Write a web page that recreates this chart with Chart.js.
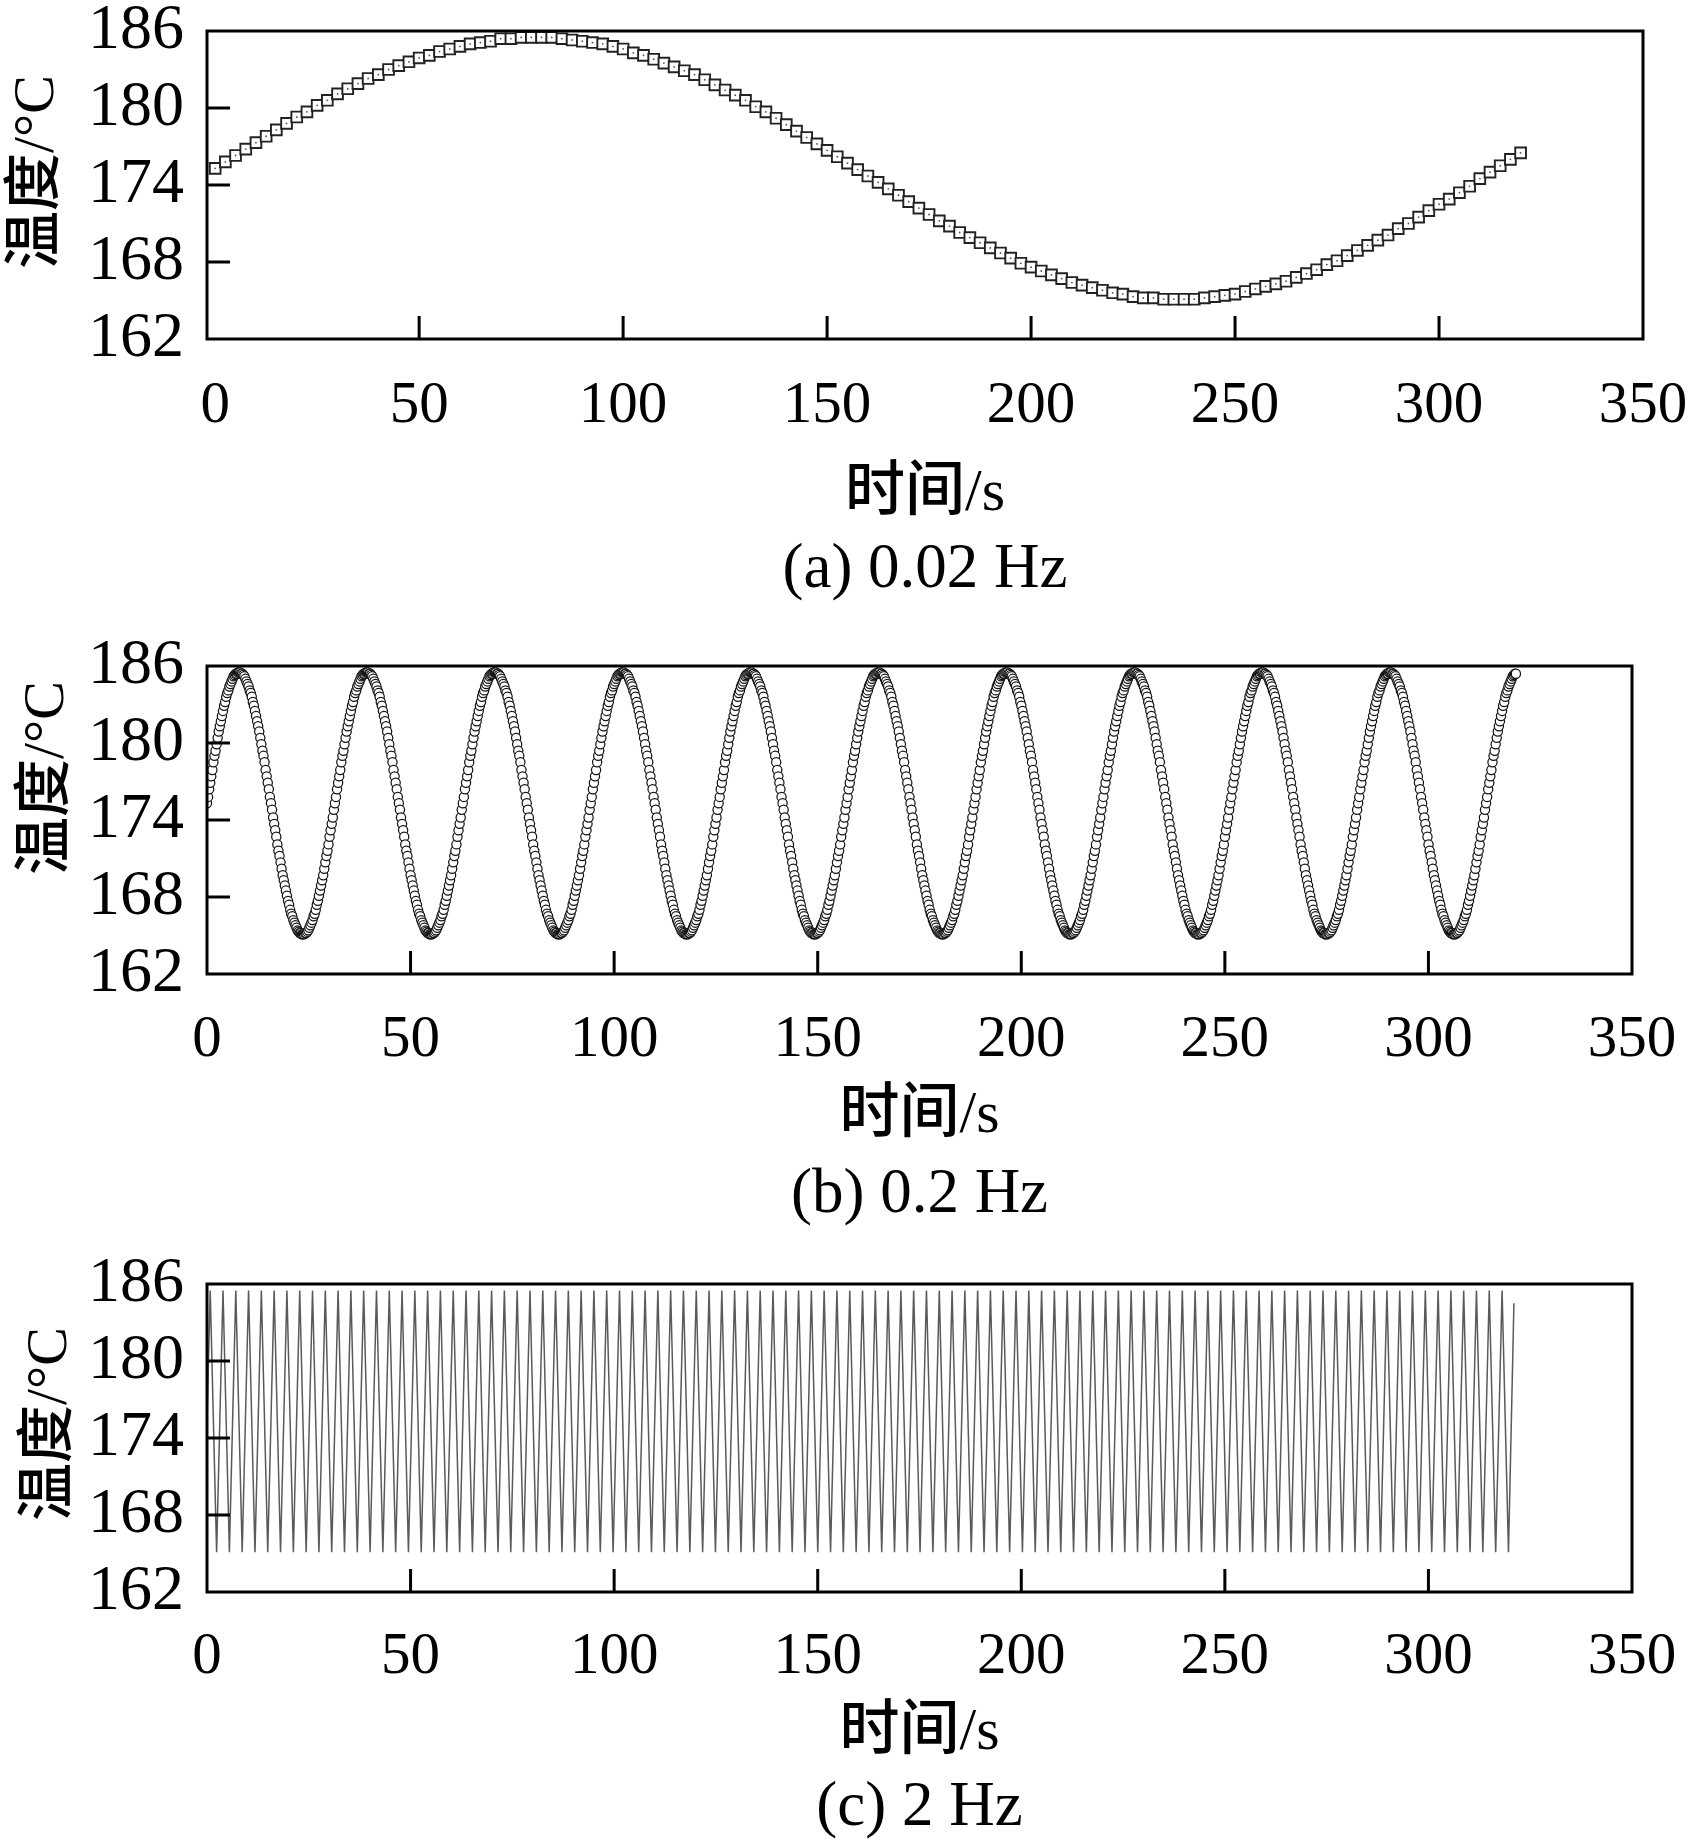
<!DOCTYPE html>
<html><head><meta charset="utf-8">
<script src="https://cdn.jsdelivr.net/npm/chart.js@4.4.0/dist/chart.umd.min.js"></script>
<style>
html,body{margin:0;padding:0;background:#fff;}
body{width:1697px;height:1843px;position:relative;overflow:hidden;}
.panel{position:absolute;left:0;width:1697px;}
canvas{display:block;}
</style></head><body>
<div class="panel" style="top:0;height:620px"><canvas id="ca" width="1697" height="620"></canvas></div>
<div class="panel" style="top:620px;height:620px"><canvas id="cb" width="1697" height="620"></canvas></div>
<div class="panel" style="top:1240px;height:603px"><canvas id="cc" width="1697" height="603"></canvas></div>
<script>
// ---------- tick labels ----------
const xTickValues = [0, 50, 100, 150, 200, 250, 300, 350];
const yTickValues = [162, 168, 174, 180, 186];

// ---------- labels ----------
const yAxisTitle = '温度/°C';
const xAxisTitle = '时间/s';
const captions = ['(a) 0.02 Hz', '(b) 0.2 Hz', '(c) 2 Hz'];

// ---------- (a) 0.02 Hz : time (s) and temperature (°C) ----------
const timeA = [0,2.5,5,7.5,10,12.5,15,17.5,20,22.5,25,27.5,30,32.5,35,37.5,40,42.5,45,47.5,50,52.5,55,57.5,60,62.5,65,67.5,70,72.5,75,77.5,80,82.5,85,87.5,90,92.5,95,97.5,100,102.5,105,107.5,110,112.5,115,117.5,120,122.5,125,127.5,130,132.5,135,137.5,140,142.5,145,147.5,150,152.5,155,157.5,160,162.5,165,167.5,170,172.5,175,177.5,180,182.5,185,187.5,190,192.5,195,197.5,200,202.5,205,207.5,210,212.5,215,217.5,220,222.5,225,227.5,230,232.5,235,237.5,240,242.5,245,247.5,250,252.5,255,257.5,260,262.5,265,267.5,270,272.5,275,277.5,280,282.5,285,287.5,290,292.5,295,297.5,300,302.5,305,307.5,310,312.5,315,317.5,320];
const tempA = [
175.3,175.8,176.3,176.8,177.3,177.8,178.3,178.8,179.3,179.7,
180.2,180.6,181.1,181.5,181.9,182.3,182.6,183.0,183.3,183.6,
183.9,184.1,184.4,184.6,184.8,185.0,185.1,185.2,185.4,185.4,
185.5,185.5,185.5,185.5,185.4,185.3,185.2,185.1,185.0,184.8,
184.6,184.3,184.1,183.8,183.5,183.2,182.9,182.6,182.2,181.8,
181.4,181.0,180.6,180.1,179.7,179.2,178.7,178.2,177.7,177.2,
176.7,176.2,175.7,175.2,174.7,174.2,173.7,173.2,172.7,172.2,
171.7,171.2,170.8,170.3,169.9,169.5,169.1,168.7,168.3,167.9,
167.6,167.3,167.0,166.7,166.4,166.2,166.0,165.8,165.6,165.5,
165.3,165.2,165.2,165.1,165.1,165.1,165.1,165.2,165.3,165.4,
165.5,165.7,165.9,166.1,166.3,166.5,166.8,167.1,167.4,167.8,
168.1,168.5,168.9,169.3,169.7,170.1,170.6,171.0,171.5,172.0,
172.5,172.9,173.4,173.9,174.5,175.0,175.5,176.0,176.5];

// ---------- (b) 0.2 Hz : sampled every timeStepB seconds ----------
const timeStepB = 0.2618;
const tempB = [
175.3,175.8,176.4,176.9,177.4,177.9,178.5,179.0,179.4,179.9,180.4,180.9,181.3,181.7,182.1,182.5,182.9,183.2,183.6,183.9,184.1,184.4,184.6,184.8,185.0,185.2,185.3,185.4,185.4,185.5,185.5,185.5,185.4,185.4,185.3,185.2,185.0,184.8,184.6,184.4,184.1,183.9,183.6,183.2,182.9,182.5,182.1,181.7,181.3,180.9,180.4,179.9,179.4,179.0,178.5,177.9,177.4,176.9,176.4,175.8,175.3,174.8,174.2,173.7,173.2,172.7,172.1,171.6,171.2,170.7,170.2,169.7,169.3,168.9,168.5,168.1,167.7,167.4,167.0,166.7,166.5,166.2,166.0,165.8,165.6,165.4,165.3,165.2,165.2,165.1,165.1,165.1,165.2,165.2,165.3,165.4,165.6,165.8,166.0,166.2,166.5,166.7,167.0,167.4,167.7,168.1,168.5,168.9,169.3,169.7,170.2,170.7,171.2,171.6,172.1,172.7,173.2,173.7,174.2,174.8,
175.3,175.8,176.4,176.9,177.4,177.9,178.5,179.0,179.4,179.9,180.4,180.9,181.3,181.7,182.1,182.5,182.9,183.2,183.6,183.9,184.1,184.4,184.6,184.8,185.0,185.2,185.3,185.4,185.4,185.5,185.5,185.5,185.4,185.4,185.3,185.2,185.0,184.8,184.6,184.4,184.1,183.9,183.6,183.2,182.9,182.5,182.1,181.7,181.3,180.9,180.4,179.9,179.4,179.0,178.5,177.9,177.4,176.9,176.4,175.8,175.3,174.8,174.2,173.7,173.2,172.7,172.1,171.6,171.2,170.7,170.2,169.7,169.3,168.9,168.5,168.1,167.7,167.4,167.0,166.7,166.5,166.2,166.0,165.8,165.6,165.4,165.3,165.2,165.2,165.1,165.1,165.1,165.2,165.2,165.3,165.4,165.6,165.8,166.0,166.2,166.5,166.7,167.0,167.4,167.7,168.1,168.5,168.9,169.3,169.7,170.2,170.7,171.2,171.6,172.1,172.7,173.2,173.7,174.2,174.8,
175.3,175.8,176.4,176.9,177.4,177.9,178.5,179.0,179.4,179.9,180.4,180.9,181.3,181.7,182.1,182.5,182.9,183.2,183.6,183.9,184.1,184.4,184.6,184.8,185.0,185.2,185.3,185.4,185.4,185.5,185.5,185.5,185.4,185.4,185.3,185.2,185.0,184.8,184.6,184.4,184.1,183.9,183.6,183.2,182.9,182.5,182.1,181.7,181.3,180.9,180.4,179.9,179.4,179.0,178.5,177.9,177.4,176.9,176.4,175.8,175.3,174.8,174.2,173.7,173.2,172.7,172.1,171.6,171.2,170.7,170.2,169.7,169.3,168.9,168.5,168.1,167.7,167.4,167.0,166.7,166.5,166.2,166.0,165.8,165.6,165.4,165.3,165.2,165.2,165.1,165.1,165.1,165.2,165.2,165.3,165.4,165.6,165.8,166.0,166.2,166.5,166.7,167.0,167.4,167.7,168.1,168.5,168.9,169.3,169.7,170.2,170.7,171.2,171.6,172.1,172.7,173.2,173.7,174.2,174.8,
175.3,175.8,176.4,176.9,177.4,177.9,178.5,179.0,179.4,179.9,180.4,180.9,181.3,181.7,182.1,182.5,182.9,183.2,183.6,183.9,184.1,184.4,184.6,184.8,185.0,185.2,185.3,185.4,185.4,185.5,185.5,185.5,185.4,185.4,185.3,185.2,185.0,184.8,184.6,184.4,184.1,183.9,183.6,183.2,182.9,182.5,182.1,181.7,181.3,180.9,180.4,179.9,179.4,179.0,178.5,177.9,177.4,176.9,176.4,175.8,175.3,174.8,174.2,173.7,173.2,172.7,172.1,171.6,171.2,170.7,170.2,169.7,169.3,168.9,168.5,168.1,167.7,167.4,167.0,166.7,166.5,166.2,166.0,165.8,165.6,165.4,165.3,165.2,165.2,165.1,165.1,165.1,165.2,165.2,165.3,165.4,165.6,165.8,166.0,166.2,166.5,166.7,167.0,167.4,167.7,168.1,168.5,168.9,169.3,169.7,170.2,170.7,171.2,171.6,172.1,172.7,173.2,173.7,174.2,174.8,
175.3,175.8,176.4,176.9,177.4,177.9,178.5,179.0,179.4,179.9,180.4,180.9,181.3,181.7,182.1,182.5,182.9,183.2,183.6,183.9,184.1,184.4,184.6,184.8,185.0,185.2,185.3,185.4,185.4,185.5,185.5,185.5,185.4,185.4,185.3,185.2,185.0,184.8,184.6,184.4,184.1,183.9,183.6,183.2,182.9,182.5,182.1,181.7,181.3,180.9,180.4,179.9,179.4,179.0,178.5,177.9,177.4,176.9,176.4,175.8,175.3,174.8,174.2,173.7,173.2,172.7,172.1,171.6,171.2,170.7,170.2,169.7,169.3,168.9,168.5,168.1,167.7,167.4,167.0,166.7,166.5,166.2,166.0,165.8,165.6,165.4,165.3,165.2,165.2,165.1,165.1,165.1,165.2,165.2,165.3,165.4,165.6,165.8,166.0,166.2,166.5,166.7,167.0,167.4,167.7,168.1,168.5,168.9,169.3,169.7,170.2,170.7,171.2,171.6,172.1,172.7,173.2,173.7,174.2,174.8,
175.3,175.8,176.4,176.9,177.4,177.9,178.5,179.0,179.4,179.9,180.4,180.9,181.3,181.7,182.1,182.5,182.9,183.2,183.6,183.9,184.1,184.4,184.6,184.8,185.0,185.2,185.3,185.4,185.4,185.5,185.5,185.5,185.4,185.4,185.3,185.2,185.0,184.8,184.6,184.4,184.1,183.9,183.6,183.2,182.9,182.5,182.1,181.7,181.3,180.9,180.4,179.9,179.4,179.0,178.5,177.9,177.4,176.9,176.4,175.8,175.3,174.8,174.2,173.7,173.2,172.7,172.1,171.6,171.2,170.7,170.2,169.7,169.3,168.9,168.5,168.1,167.7,167.4,167.0,166.7,166.5,166.2,166.0,165.8,165.6,165.4,165.3,165.2,165.2,165.1,165.1,165.1,165.2,165.2,165.3,165.4,165.6,165.8,166.0,166.2,166.5,166.7,167.0,167.4,167.7,168.1,168.5,168.9,169.3,169.7,170.2,170.7,171.2,171.6,172.1,172.7,173.2,173.7,174.2,174.8,
175.3,175.8,176.4,176.9,177.4,177.9,178.5,179.0,179.4,179.9,180.4,180.9,181.3,181.7,182.1,182.5,182.9,183.2,183.6,183.9,184.1,184.4,184.6,184.8,185.0,185.2,185.3,185.4,185.4,185.5,185.5,185.5,185.4,185.4,185.3,185.2,185.0,184.8,184.6,184.4,184.1,183.9,183.6,183.2,182.9,182.5,182.1,181.7,181.3,180.9,180.4,179.9,179.4,179.0,178.5,177.9,177.4,176.9,176.4,175.8,175.3,174.8,174.2,173.7,173.2,172.7,172.1,171.6,171.2,170.7,170.2,169.7,169.3,168.9,168.5,168.1,167.7,167.4,167.0,166.7,166.5,166.2,166.0,165.8,165.6,165.4,165.3,165.2,165.2,165.1,165.1,165.1,165.2,165.2,165.3,165.4,165.6,165.8,166.0,166.2,166.5,166.7,167.0,167.4,167.7,168.1,168.5,168.9,169.3,169.7,170.2,170.7,171.2,171.6,172.1,172.7,173.2,173.7,174.2,174.8,
175.3,175.8,176.4,176.9,177.4,177.9,178.5,179.0,179.4,179.9,180.4,180.9,181.3,181.7,182.1,182.5,182.9,183.2,183.6,183.9,184.1,184.4,184.6,184.8,185.0,185.2,185.3,185.4,185.4,185.5,185.5,185.5,185.4,185.4,185.3,185.2,185.0,184.8,184.6,184.4,184.1,183.9,183.6,183.2,182.9,182.5,182.1,181.7,181.3,180.9,180.4,179.9,179.4,179.0,178.5,177.9,177.4,176.9,176.4,175.8,175.3,174.8,174.2,173.7,173.2,172.7,172.1,171.6,171.2,170.7,170.2,169.7,169.3,168.9,168.5,168.1,167.7,167.4,167.0,166.7,166.5,166.2,166.0,165.8,165.6,165.4,165.3,165.2,165.2,165.1,165.1,165.1,165.2,165.2,165.3,165.4,165.6,165.8,166.0,166.2,166.5,166.7,167.0,167.4,167.7,168.1,168.5,168.9,169.3,169.7,170.2,170.7,171.2,171.6,172.1,172.7,173.2,173.7,174.2,174.8,
175.3,175.8,176.4,176.9,177.4,177.9,178.5,179.0,179.4,179.9,180.4,180.9,181.3,181.7,182.1,182.5,182.9,183.2,183.6,183.9,184.1,184.4,184.6,184.8,185.0,185.2,185.3,185.4,185.4,185.5,185.5,185.5,185.4,185.4,185.3,185.2,185.0,184.8,184.6,184.4,184.1,183.9,183.6,183.2,182.9,182.5,182.1,181.7,181.3,180.9,180.4,179.9,179.4,179.0,178.5,177.9,177.4,176.9,176.4,175.8,175.3,174.8,174.2,173.7,173.2,172.7,172.1,171.6,171.2,170.7,170.2,169.7,169.3,168.9,168.5,168.1,167.7,167.4,167.0,166.7,166.5,166.2,166.0,165.8,165.6,165.4,165.3,165.2,165.2,165.1,165.1,165.1,165.2,165.2,165.3,165.4,165.6,165.8,166.0,166.2,166.5,166.7,167.0,167.4,167.7,168.1,168.5,168.9,169.3,169.7,170.2,170.7,171.2,171.6,172.1,172.7,173.2,173.7,174.2,174.8,
175.3,175.8,176.4,176.9,177.4,177.9,178.5,179.0,179.4,179.9,180.4,180.9,181.3,181.7,182.1,182.5,182.9,183.2,183.6,183.9,184.1,184.4,184.6,184.8,185.0,185.2,185.3,185.4,185.4,185.5,185.5,185.5,185.4,185.4,185.3,185.2,185.0,184.8,184.6,184.4,184.1,183.9,183.6,183.2,182.9,182.5,182.1,181.7,181.3,180.9,180.4,179.9,179.4,179.0,178.5,177.9,177.4,176.9,176.4,175.8,175.3,174.8,174.2,173.7,173.2,172.7,172.1,171.6,171.2,170.7,170.2,169.7,169.3,168.9,168.5,168.1,167.7,167.4,167.0,166.7,166.5,166.2,166.0,165.8,165.6,165.4,165.3,165.2,165.2,165.1,165.1,165.1,165.2,165.2,165.3,165.4,165.6,165.8,166.0,166.2,166.5,166.7,167.0,167.4,167.7,168.1,168.5,168.9,169.3,169.7,170.2,170.7,171.2,171.6,172.1,172.7,173.2,173.7,174.2,174.8,
175.3,175.8,176.4,176.9,177.4,177.9,178.5,179.0,179.4,179.9,180.4,180.9,181.3,181.7,182.1,182.5,182.9,183.2,183.6,183.9,184.1,184.4,184.6,184.8,185.0,185.2,185.3,185.4,185.4];

// ---------- (c) 2 Hz : turning points of the trace ----------
const timeC = [0,
0.79,2.36,3.93,5.50,7.07,8.64,10.21,11.78,13.35,14.92,16.49,18.06,19.63,21.21,22.78,24.35,25.92,27.49,29.06,30.63,
32.20,33.77,35.34,36.91,38.48,40.06,41.63,43.20,44.77,46.34,47.91,49.48,51.05,52.62,54.19,55.76,57.33,58.90,60.48,62.05,
63.62,65.19,66.76,68.33,69.90,71.47,73.04,74.61,76.18,77.75,79.33,80.90,82.47,84.04,85.61,87.18,88.75,90.32,91.89,93.46,
95.03,96.60,98.17,99.75,101.32,102.89,104.46,106.03,107.60,109.17,110.74,112.31,113.88,115.45,117.02,118.60,120.17,121.74,123.31,124.88,
126.45,128.02,129.59,131.16,132.73,134.30,135.87,137.44,139.02,140.59,142.16,143.73,145.30,146.87,148.44,150.01,151.58,153.15,154.72,156.29,
157.87,159.44,161.01,162.58,164.15,165.72,167.29,168.86,170.43,172.00,173.57,175.14,176.71,178.29,179.86,181.43,183.00,184.57,186.14,187.71,
189.28,190.85,192.42,193.99,195.56,197.14,198.71,200.28,201.85,203.42,204.99,206.56,208.13,209.70,211.27,212.84,214.41,215.98,217.56,219.13,
220.70,222.27,223.84,225.41,226.98,228.55,230.12,231.69,233.26,234.83,236.40,237.98,239.55,241.12,242.69,244.26,245.83,247.40,248.97,250.54,
252.11,253.68,255.25,256.82,258.40,259.97,261.54,263.11,264.68,266.25,267.82,269.39,270.96,272.53,274.10,275.67,277.25,278.82,280.39,281.96,
283.53,285.10,286.67,288.24,289.81,291.38,292.95,294.52,296.09,297.67,299.24,300.81,302.38,303.95,305.52,307.09,308.66,310.23,311.80,313.37,
314.94,316.52,318.09,319.66,
321.0];
const tempC = [175.3,
185.5,165.1,185.5,165.1,185.5,165.1,185.5,165.1,185.5,165.1,185.5,165.1,185.5,165.1,185.5,165.1,185.5,165.1,185.5,165.1,
185.5,165.1,185.5,165.1,185.5,165.1,185.5,165.1,185.5,165.1,185.5,165.1,185.5,165.1,185.5,165.1,185.5,165.1,185.5,165.1,
185.5,165.1,185.5,165.1,185.5,165.1,185.5,165.1,185.5,165.1,185.5,165.1,185.5,165.1,185.5,165.1,185.5,165.1,185.5,165.1,
185.5,165.1,185.5,165.1,185.5,165.1,185.5,165.1,185.5,165.1,185.5,165.1,185.5,165.1,185.5,165.1,185.5,165.1,185.5,165.1,
185.5,165.1,185.5,165.1,185.5,165.1,185.5,165.1,185.5,165.1,185.5,165.1,185.5,165.1,185.5,165.1,185.5,165.1,185.5,165.1,
185.5,165.1,185.5,165.1,185.5,165.1,185.5,165.1,185.5,165.1,185.5,165.1,185.5,165.1,185.5,165.1,185.5,165.1,185.5,165.1,
185.5,165.1,185.5,165.1,185.5,165.1,185.5,165.1,185.5,165.1,185.5,165.1,185.5,165.1,185.5,165.1,185.5,165.1,185.5,165.1,
185.5,165.1,185.5,165.1,185.5,165.1,185.5,165.1,185.5,165.1,185.5,165.1,185.5,165.1,185.5,165.1,185.5,165.1,185.5,165.1,
185.5,165.1,185.5,165.1,185.5,165.1,185.5,165.1,185.5,165.1,185.5,165.1,185.5,165.1,185.5,165.1,185.5,165.1,185.5,165.1,
185.5,165.1,185.5,165.1,185.5,165.1,185.5,165.1,185.5,165.1,185.5,165.1,185.5,165.1,185.5,165.1,185.5,165.1,185.5,165.1,
185.5,165.1,185.5,165.1,
184.5];

// ---------- build library data ----------
const dataA = timeA.map((t, i) => ({x: t, y: tempA[i]}));
const dataB = tempB.map((v, i) => ({x: i * timeStepB, y: v}));
const dataC = timeC.map((t, i) => ({x: t, y: tempC[i]}));

const FONT = "'Liberation Serif','Noto Sans CJK SC',serif";
Chart.defaults.font.family = FONT;
Chart.defaults.color = '#000';

function framePlugin(g) {
  return {
    id: 'frameTicks',
    afterDatasetsDraw(chart) {
      const {ctx, chartArea: a, scales: {x, y}} = chart;
      ctx.save();
      ctx.strokeStyle = '#000';
      ctx.lineWidth = 3;
      ctx.lineCap = 'butt';
      ctx.beginPath();
      xTickValues.slice(1, -1).forEach(v => { const px = x.getPixelForValue(v); ctx.moveTo(px, a.bottom); ctx.lineTo(px, a.bottom - 23); });
      yTickValues.slice(1, -1).forEach(v => { const py = y.getPixelForValue(v); ctx.moveTo(a.left, py); ctx.lineTo(a.left + 23, py); });
      ctx.stroke();
      ctx.strokeRect(a.left, a.top, a.right - a.left, a.bottom - a.top);
      ctx.fillStyle = '#000';
      ctx.textAlign = 'center';
      ctx.textBaseline = 'middle';
      // caption under the panel
      ctx.font = '63px ' + FONT;
      ctx.fillText(g.caption, (a.left + a.right) / 2, g.capY);
      // rotated y-axis title
      ctx.translate(g.ytX, g.ytY);
      ctx.rotate(-Math.PI / 2);
      ctx.font = '500 58px ' + FONT;
      ctx.fillText(yAxisTitle, 0, 0);
      ctx.restore();
    }
  };
}

function makeOptions(g) {
  return {
    responsive: false,
    animation: false,
    events: [],
    layout: {autoPadding: false, padding: {left: 0, top: g.top, right: g.right, bottom: g.bottom}},
    plugins: {legend: {display: false}, tooltip: {enabled: false}, title: {display: false}},
    scales: {
      x: {
        type: 'linear', min: g.xmin, max: 350,
        grid: {display: false, drawTicks: false}, border: {display: false},
        afterBuildTicks: s => { s.ticks = xTickValues.map(v => ({value: v})); },
        afterFit: s => { s.height = g.xh; s.paddingLeft = 0; s.paddingRight = 0; },
        ticks: {autoSkip: false, maxRotation: 0, padding: g.xtick, color: '#000',
                font: {family: FONT, size: 59, lineHeight: 1.2}},
        title: {display: true, text: xAxisTitle, color: '#000',
                font: {family: FONT, size: 60, weight: 500, lineHeight: 1.2},
                padding: {top: 0, bottom: g.xtPad}}
      },
      y: {
        type: 'linear', min: 162, max: 186,
        grid: {display: false, drawTicks: false}, border: {display: false},
        afterBuildTicks: s => { s.ticks = yTickValues.map(v => ({value: v})); },
        afterFit: s => { s.width = 207; s.paddingTop = 0; s.paddingBottom = 0; },
        ticks: {autoSkip: false, padding: 23, color: '#000', font: {family: FONT, size: 64, lineHeight: 1.0}}
      }
    }
  };
}

new Chart(document.getElementById('ca'), {
  type: 'scatter',
  data: {datasets: [
    {data: dataA, order: 0, pointStyle: 'circle', pointRadius: 0.9, pointBackgroundColor: '#555', pointBorderWidth: 0, showLine: false},
    {data: dataA, order: 1, pointStyle: 'rect', pointRadius: 7.6, pointBackgroundColor: '#fff', pointBorderColor: '#222', pointBorderWidth: 1.9, showLine: false}
  ]},
  options: makeOptions({top: 31, right: 54, bottom: 81, xh: 200, xtPad: 9, xtick: 32, xmin: -2}),
  plugins: [framePlugin({ytX: 38, ytY: 172, caption: captions[0], capY: 570})]
});

new Chart(document.getElementById('cb'), {
  type: 'scatter',
  data: {datasets: [
    {data: dataB, pointStyle: 'circle', pointRadius: 4.6, pointBackgroundColor: '#fff', pointBorderColor: '#151515', pointBorderWidth: 1.25, showLine: false}
  ]},
  options: makeOptions({top: 46, right: 65, bottom: 86, xh: 180, xtPad: 2, xtick: 31, xmin: 0}),
  plugins: [framePlugin({ytX: 48, ytY: 158, caption: captions[1], capY: 575})]
});

new Chart(document.getElementById('cc'), {
  type: 'scatter',
  data: {datasets: [
    {data: dataC, showLine: true, tension: 0, borderColor: '#5a5a5a', borderWidth: 1.5, pointRadius: 0}
  ]},
  options: makeOptions({top: 44, right: 65, bottom: 71, xh: 180, xtPad: 3, xtick: 30, xmin: 0}),
  plugins: [framePlugin({ytX: 51, ytY: 184, caption: captions[2], capY: 568})]
});
</script>
</body></html>
